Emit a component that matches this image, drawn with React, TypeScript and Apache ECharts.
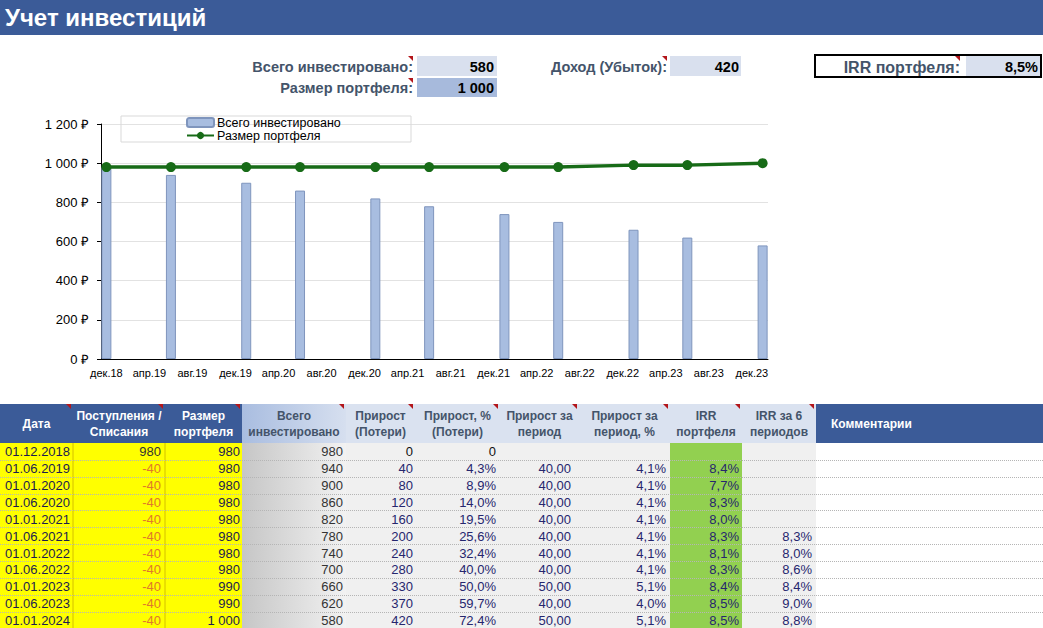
import React, { useEffect, useRef } from 'react';
import * as echarts from 'echarts';

// ---------- DATA ----------
const monthNames = ['янв', 'фев', 'мар', 'апр', 'май', 'июн', 'июл', 'авг', 'сен', 'окт', 'ноя', 'дек'];
const axisFirstYear = 2018;
const axisFirstMonth = 12;
const axisMonthCount = 62; // дек.18 .. янв.24

const dates = ['01.12.2018', '01.06.2019', '01.01.2020', '01.06.2020', '01.01.2021', '01.06.2021', '01.01.2022', '01.06.2022', '01.01.2023', '01.06.2023', '01.01.2024'];
const flows = [980, -40, -40, -40, -40, -40, -40, -40, -40, -40, -40];
const portfolio = [980, 980, 980, 980, 980, 980, 980, 980, 990, 990, 1000];
const invested = [980, 940, 900, 860, 820, 780, 740, 700, 660, 620, 580];
const gain = [0, 40, 80, 120, 160, 200, 240, 280, 330, 370, 420];
const gainPct = [0, 4.3, 8.9, 14.0, 19.5, 25.6, 32.4, 40.0, 50.0, 59.7, 72.4];
const periodGain = [null, 40, 40, 40, 40, 40, 40, 40, 50, 40, 50];
const periodGainPct = [null, 4.1, 4.1, 4.1, 4.1, 4.1, 4.1, 4.1, 5.1, 4.0, 5.1];
const irrPortfolio = [null, 8.4, 7.7, 8.3, 8.0, 8.3, 8.1, 8.3, 8.4, 8.5, 8.5];
const irr6 = [null, null, null, null, null, 8.3, 8.0, 8.6, 8.4, 9.0, 8.8];
const irrTotal = 8.5;

const yMin = 0;
const yMax = 1200;
const yInterval = 200;

const seriesNames = ['Всего инвестировано', 'Размер портфеля'];
const title = 'Учет инвестиций';
const summaryLabels = ['Всего инвестировано:', 'Размер портфеля:', 'Доход (Убыток):', 'IRR портфеля:'];
const tableHeaders = [
  ['Дата'],
  ['Поступления /', 'Списания'],
  ['Размер', 'портфеля'],
  ['Всего', 'инвестировано'],
  ['Прирост', '(Потери)'],
  ['Прирост, %', '(Потери)'],
  ['Прирост за', 'период'],
  ['Прирост за', 'период, %'],
  ['IRR', 'портфеля'],
  ['IRR за 6', 'периодов'],
  ['Комментарии'],
];

// ---------- LAYOUT / STYLE ----------
const W = 1043;
const H = 628;
const FONT = 'Arial, "Liberation Sans", sans-serif';
const colEdges = [0, 73, 165, 242, 346, 415, 500, 579, 670, 742, 816, 1043];
const textRight = [0, 161, 240, 343, 413, 496, 571, 666, 739, 812, 0];
const headTop = 404;
const headBottom = 443;
const rowH = 16.85;
const blue = '#3b5b98';
const lightHead = '#dae2f0';
const navy = '#26266e';

function fmtInt(v: number) {
  return String(v).replace(/\B(?=(\d{3})+(?!\d))/g, ' ');
}
function fmtPct(v: number) {
  return v.toFixed(1).replace('.', ',') + '%';
}
function fmtDec(v: number) {
  return v.toFixed(2).replace('.', ',');
}
function dateIndex(d: string) {
  const p = d.split('.');
  return (Number(p[2]) - axisFirstYear) * 12 + Number(p[1]) - axisFirstMonth;
}

function txt(text: string, x: number, y: number, font: string, fill: string, align = 'left', z = 10) {
  return {
    type: 'text',
    z,
    style: {
      text,
      x,
      y,
      font,
      fill,
      align,
      textAlign: align,
      verticalAlign: 'middle',
      textVerticalAlign: 'middle',
    },
  };
}
function rect(x: number, y: number, w: number, h: number, fill: any, z = 1, stroke?: string, lineWidth = 1) {
  return {
    type: 'rect',
    z,
    shape: { x, y, width: w, height: h },
    style: { fill, stroke: stroke || null, lineWidth },
  };
}
function redMark(x: number, y: number) {
  return {
    type: 'polygon',
    z: 12,
    shape: { points: [[x - 5, y], [x, y], [x, y + 5]] },
    style: { fill: '#b3161b' },
  };
}

function buildOption() {
  const categories: string[] = [];
  for (let i = 0; i < axisMonthCount; i++) {
    const m = (axisFirstMonth - 1 + i) % 12;
    const y = (axisFirstYear + Math.floor((axisFirstMonth - 1 + i) / 12)) % 100;
    categories.push(monthNames[m] + '.' + y);
  }
  const barData: (number | null)[] = categories.map(() => null);
  const lineData: (number | null)[] = categories.map(() => null);
  dates.forEach((d, i) => {
    const idx = dateIndex(d);
    barData[idx] = invested[i];
    lineData[idx] = portfolio[i];
  });

  const els: any[] = [];
  // title bar
  els.push(rect(0, 0, W, 35, blue));
  els.push(txt(title, 5, 17, 'bold 24px ' + FONT, '#ffffff'));

  // summary
  const last = dates.length - 1;
  const labelColor = '#44546a';
  const lf = 'bold 14.5px ' + FONT;
  const lfBig = 'bold 16px ' + FONT;
  els.push(rect(417, 56, 80, 20, '#d9e0ee'));
  els.push(rect(417, 78, 80, 19, '#a7badc'));
  els.push(rect(670, 56, 71, 20, '#d9e0ee'));
  els.push(rect(966, 56, 74, 20, '#d9e0ee'));
  els.push(rect(815, 55, 226, 22, null, 5, '#000000', 2));
  els.push(txt(summaryLabels[0], 413, 67, lf, labelColor, 'right'));
  els.push(txt(summaryLabels[1], 413, 88, lf, labelColor, 'right'));
  els.push(txt(summaryLabels[2], 667, 67, lf, labelColor, 'right'));
  els.push(txt(summaryLabels[3], 960, 67, lfBig, labelColor, 'right'));
  els.push(txt(fmtInt(invested[last]), 494, 67, lf, '#000000', 'right'));
  els.push(txt(fmtInt(portfolio[last]), 494, 88, lf, '#000000', 'right'));
  els.push(txt(fmtInt(gain[last]), 739, 67, lf, '#000000', 'right'));
  els.push(txt(fmtPct(irrTotal), 1038, 67, lf, '#000000', 'right'));
  els.push(redMark(413, 56), redMark(413, 78), redMark(667, 56), redMark(960, 56));

  // legend box
  els.push(rect(121, 116, 290, 26, null, 1, '#d9d9d9', 1));

  // table header
  const hf = 'bold 12px ' + FONT;
  tableHeaders.forEach((lines, c) => {
    const x0 = colEdges[c];
    const x1 = colEdges[c + 1];
    const isBlue = c <= 2 || c === 10;
    let fill: any = lightHead;
    if (isBlue) fill = blue;
    if (c === 3) {
      fill = new echarts.graphic.LinearGradient(0, 0, 1, 0, [
        { offset: 0, color: '#a9bde0' },
        { offset: 1, color: '#d6dfef' },
      ]);
    }
    els.push(rect(x0, headTop, x1 - x0, headBottom - headTop, fill, 1));
    const color = isBlue ? '#ffffff' : '#44546a';
    const cy = (headTop + headBottom) / 2;
    if (c === 10) {
      els.push(txt(lines[0], 831, cy, hf, color, 'left'));
    } else if (lines.length === 1) {
      els.push(txt(lines[0], (x0 + x1) / 2, cy, hf, color, 'center'));
    } else {
      els.push(txt(lines[0], (x0 + x1) / 2, cy - 8, hf, color, 'center'));
      els.push(txt(lines[1], (x0 + x1) / 2, cy + 8, hf, color, 'center'));
    }
    if (c < 10) els.push(redMark(x1 - 2, headTop));
  });

  // table body backgrounds
  const bodyTop = headBottom;
  const bodyH = rowH * dates.length;
  for (let c = 0; c < 11; c++) {
    const x0 = colEdges[c];
    const x1 = colEdges[c + 1];
    let fill: any = '#f0f0f0';
    if (c <= 2) fill = '#ffff00';
    if (c === 3) {
      fill = new echarts.graphic.LinearGradient(0, 0, 1, 0, [
        { offset: 0, color: '#c6c6c6' },
        { offset: 1, color: '#f2f2f2' },
      ]);
    }
    if (c === 8) fill = '#92d050';
    if (c === 10) fill = '#ffffff';
    els.push(rect(x0, bodyTop, x1 - x0, bodyH + 2, fill, 1));
  }
  // vertical separators in yellow block
  [73, 165].forEach((x) => {
    els.push({ type: 'line', z: 3, shape: { x1: x, y1: bodyTop, x2: x, y2: H }, style: { stroke: '#d4c000', lineWidth: 1 } });
  });
  // dotted row lines
  for (let r = 1; r < dates.length; r++) {
    const y = Math.round(bodyTop + r * rowH) + 0.5;
    els.push({
      type: 'line',
      z: 3,
      shape: { x1: 0, y1: y, x2: W, y2: y },
      style: { stroke: '#b5b5b5', lineWidth: 1, lineDash: [1, 1] },
    });
  }
  // body texts
  const bf = '13px ' + FONT;
  dates.forEach((d, r) => {
    const cy = bodyTop + r * rowH + rowH / 2 + 0.5;
    const first = r === 0;
    const vc = first ? '#111111' : navy;
    els.push(txt(d, 5, cy, bf, '#1c1c50', 'left'));
    els.push(txt(fmtInt(flows[r]), textRight[1], cy, bf, flows[r] < 0 ? '#e0792a' : '#333333', 'right'));
    els.push(txt(fmtInt(portfolio[r]), textRight[2], cy, bf, '#1c1c50', 'right'));
    els.push(txt(fmtInt(invested[r]), textRight[3], cy, bf, '#333333', 'right'));
    els.push(txt(fmtInt(gain[r]), textRight[4], cy, bf, vc, 'right'));
    els.push(txt(gainPct[r] === 0 ? '0' : fmtPct(gainPct[r]), textRight[5], cy, bf, vc, 'right'));
    const pg = periodGain[r];
    if (pg !== null) els.push(txt(fmtDec(pg), textRight[6], cy, bf, navy, 'right'));
    const pp = periodGainPct[r];
    if (pp !== null) els.push(txt(fmtPct(pp), textRight[7], cy, bf, navy, 'right'));
    const ir = irrPortfolio[r];
    if (ir !== null) els.push(txt(fmtPct(ir), textRight[8], cy, bf, navy, 'right'));
    const i6 = irr6[r];
    if (i6 !== null) els.push(txt(fmtPct(i6), textRight[9], cy, bf, navy, 'right'));
  });

  return {
    animation: false,
    backgroundColor: '#ffffff',
    textStyle: { fontFamily: FONT },
    grid: { left: 101, right: W - 768, top: 124, bottom: H - 359, containLabel: false },
    legend: {
      data: seriesNames,
      orient: 'vertical',
      left: 186,
      top: 116,
      itemGap: 0,
      itemWidth: 27,
      itemHeight: 9,
      padding: 0,
      textStyle: { fontSize: 12.5, color: '#000000', fontFamily: FONT, lineHeight: 13, padding: [0, 0, 0, -2] },
    },
    xAxis: {
      type: 'category',
      data: categories,
      boundaryGap: true,
      axisLine: { lineStyle: { color: '#000000', width: 1 } },
      axisTick: { interval: 3, length: 4, lineStyle: { color: '#000000' } },
      axisLabel: { interval: 3, fontSize: 11, color: '#000000', margin: 8, fontFamily: FONT },
      splitLine: { show: false },
    },
    yAxis: {
      type: 'value',
      min: yMin,
      max: yMax,
      interval: yInterval,
      axisLine: { show: true, lineStyle: { color: '#000000', width: 1 } },
      axisTick: { show: true, length: 4, lineStyle: { color: '#000000' } },
      axisLabel: {
        fontSize: 13,
        color: '#000000',
        margin: 12,
        fontFamily: FONT,
        formatter: (v: number) => fmtInt(v) + ' ₽',
      },
      splitLine: { lineStyle: { color: '#e2e2e2', width: 1 } },
    },
    series: [
      {
        name: seriesNames[0],
        type: 'bar',
        data: barData,
        barWidth: 10,
        itemStyle: { color: '#a8bde0', borderColor: '#7f95bd', borderWidth: 1 },
        z: 2,
      },
      {
        name: seriesNames[1],
        type: 'line',
        data: lineData,
        connectNulls: true,
        symbol: 'circle',
        symbolSize: 10,
        showAllSymbol: true,
        lineStyle: { color: '#176b17', width: 3.5 },
        itemStyle: { color: '#176b17' },
        z: 3,
      },
    ],
    graphic: { elements: els },
  };
}

export default function App() {
  const ref = useRef<HTMLDivElement>(null);
  useEffect(() => {
    document.body.style.margin = '0';
    const chart = echarts.init(ref.current as HTMLDivElement, null, { renderer: 'svg', width: W, height: H });
    chart.setOption(buildOption() as any);
    return () => chart.dispose();
  }, []);
  return <div ref={ref} style={{ width: W, height: H }} />;
}
